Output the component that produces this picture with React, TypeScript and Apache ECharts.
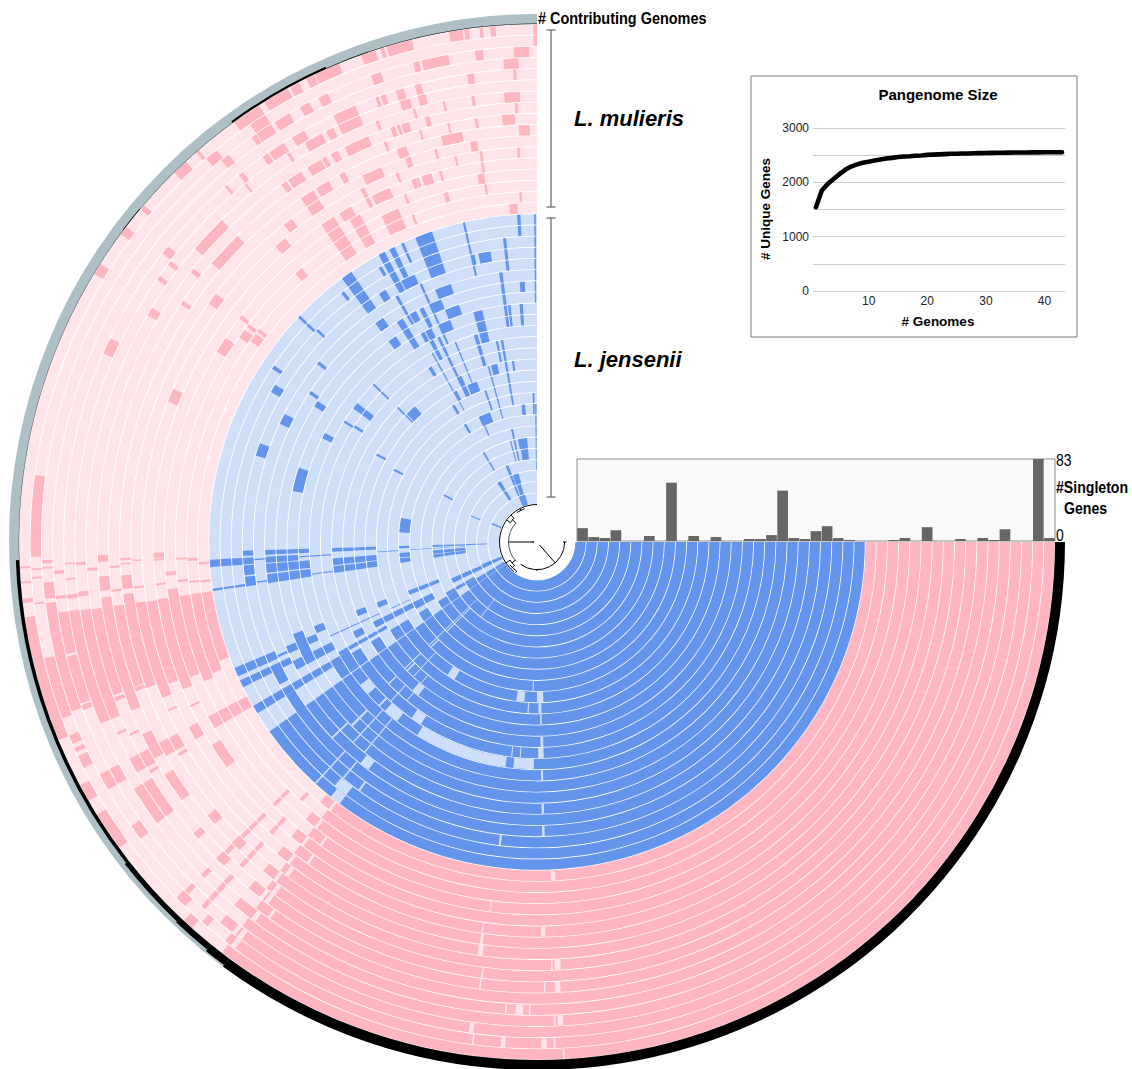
import React, { useEffect, useRef } from "react";
import * as echarts from "echarts";

type Col = [number, number, number[]];

const BLUE = "#6495ed";
const BLUE_LIGHT = "#cfdffa";
const PINK = "#ffb6c1";
const PINK_LIGHT = "#ffe5e9";
const GREY = "#afbfc6";

const genomeCount = 43;
const blueGenomes = 26;
const sweepEnd = 270;
const blueCoreEnd = 144.7;
const pinkCoreEnd = 127.5;

const singletons = [13, 4, 3, 11, 0, 0, 5, 0, 59, 0, 5, 0, 4, 0, 0, 2, 2, 6, 51, 3, 2, 10, 15, 3, 1, 0, 0, 0, 1, 3, 0, 14, 0, 0, 2, 0, 3, 1, 12, 0, 0, 83, 3];
const pangenomeSize = [1543, 1850, 1970, 2060, 2150, 2230, 2290, 2330, 2360, 2380, 2400, 2420, 2440, 2450, 2465, 2475, 2480, 2490, 2495, 2505, 2510, 2515, 2520, 2525, 2525, 2530, 2532, 2535, 2537, 2540, 2542, 2544, 2545, 2546, 2548, 2549, 2550, 2551, 2552, 2553, 2554, 2555, 2555];

// Blue accessory blocks, degrees back from north
const blueTop: Col[] = [
  [18.7, 21.8, [25, 24, 23, 22]], [9.1, 11.5, [22]], [12.3, 12.9, [22]],
  [34.5, 36.5, [25, 24, 23, 22, 20, 18]], [27.7, 28.9, [25, 24, 23, 22, 19]],
  [25.8, 26.8, [25, 24, 23, 19, 18]], [24.6, 27.5, [22]], [31, 32.5, [22, 19, 18, 17]],
  [18.5, 22, [20]], [21.6, 24.2, [19]], [18.2, 21.6, [18]], [21.4, 24.2, [17]],
  [13.3, 15.5, [17, 16, 15]], [26.3, 27.9, [17]], [2.7, 3.8, [19]], [7.3, 8, [20, 19, 18, 17, 16]],
  [6.4, 7, [17, 16]], [3.4, 4.2, [17, 16]], [12.6, 14.6, [12]], [20.6, 24, [11]], [20, 25, [8]],
  [5.5, 10.5, [5]], [5.5, 10, [4]], [15, 20, [2]], [15.5, 19.5, [1]], [14, 18, [0]],
  [0.2, 0.5, [25, 24, 23, 22, 21, 20, 19, 18]], [2.9, 3.5, [25, 24]], [5.8, 6.4, [23, 22, 21]],
  [12.7, 13.1, [25, 24, 23, 22, 21]], [24, 24.5, [25, 24, 21, 20, 19, 18, 17, 16]],
  [29.4, 30, [24, 21, 20, 19]], [25.3, 26, [16, 15, 14, 13, 12, 11]], [27.2, 28.2, [16, 15]],
  [31, 32, [14, 10, 8]], [24.5, 26, [12, 11]], [28, 29, [11]], [16, 17, [15, 14, 13]],
  [7.2, 7.9, [12]], [5, 6.5, [8]], [1, 1.7, [9, 8]], [14.3, 15, [5, 4]], [28.2, 29.2, [19, 17]],
  [30.3, 31.3, [5, 4]], [11, 11.6, [13, 14]], [18.5, 19.2, [9, 10]], [24, 24.6, [7, 8]],
  [12, 13, [6, 5, 4]], [0.2, 0.8, [8, 7, 6, 5, 4, 3]], [20.5, 22.5, [3, 2, 1]], [31, 34, [2, 1]], [18, 22, [0]],
  [9.5, 10.2, [14, 13, 12, 11, 10, 9]], [15.2, 15.7, [12, 11, 10, 9, 8]], [22, 22.4, [15, 14, 13, 12]], [28.8, 29.2, [15, 14, 13, 12, 11, 10]],
  [72.7, 78.2, [18]], [70.4, 72.9, [22]], [63.1, 65.3, [21]], [80, 86, [8]], [62.8, 64.2, [17]],
  [59, 60.6, [23]], [56.1, 56.8, [24]], [57.3, 58.7, [19]], [56.3, 57, [20]], [50.3, 51, [21]],
  [52.3, 54, [16, 15]], [57.7, 58.3, [16]], [57.3, 58, [15]], [42, 45.5, [12]], [61, 61.7, [12]],
  [62.8, 63.6, [10]], [62.8, 63.8, [5]], [68, 69, [2]], [67, 69, [0]], [46.3, 46.8, [25, 24]],
  [37.6, 38.2, [24]], [45.8, 46.3, [23, 16, 15, 13, 12]],
];

// Blue accessory blocks, degrees back from west
const blueWest: Col[] = [
  [1.7, 2.7, [1, 2, 3, 4, 5, 8, 11, 12, 13, 14, 17, 18, 19, 20, 22]],
  [3.1, 4.4, [25, 24, 23, 22, 20, 19, 18]], [4.6, 6.5, [3, 4, 5, 8, 11, 12, 13, 14, 17, 18, 19, 20, 22]],
  [6.8, 8.7, [3, 4, 5, 8, 11, 12, 13, 14, 17, 18, 19, 20, 22]], [3.4, 3.7, [3, 4, 5, 6, 7, 9, 10, 15, 16, 17, 21]],
  [8.2, 8.6, [25, 24, 23]], [8, 8.3, [21, 16, 15]], [22.6, 24.2, [25, 24, 23, 22, 20, 18]],
  [23.5, 24, [21]], [20.7, 25.8, [19]], [20.7, 22.5, [17, 13, 11, 8, 7, 6]], [26, 28, [20, 18, 17, 14, 12, 11, 10, 9]],
  [25, 26.3, [25, 24, 23, 21]], [25, 29, [22]], [25, 28, [19]], [24.3, 24.6, [16, 15, 14, 13, 12, 10, 9]],
  [30, 31.5, [25, 24, 23, 22, 21, 20, 19, 18, 17, 16]], [31.5, 36, [22]],
  [31, 35, [17, 16, 15, 13, 11, 10, 8, 6, 5]], [26, 29, [8, 7]], [23, 26, [4, 3, 2]], [29, 31, [5, 4, 3]],
  [22, 26, [1, 0]], [29, 30, [16, 15, 14, 13, 12]], [31, 35, [3, 2, 1, 0]], [35.8, 36.2, [17, 16, 15, 13]],
];

// Blue white slits through the core, [from, to, rings] in sweep degrees
const blueGaps: Col[] = [
  [98, 121.8, [16]], [90.8, 96, [16]], [96.6, 96.9, [15]], [94.3, 94.6, [15]], [88.2, 89.7, [15]], [88.2, 89, [14]],
  [94.5, 97.4, [10]], [87.7, 90, [10]], [92.8, 93.2, [11]], [88.5, 89.5, [11]], [91.3, 91.7, [9]], [121, 124, [10]],
  [122.5, 125.5, [15]], [128, 132, [16]], [138, 141, [16]], [127.7, 130, [13]], [133.7, 134.2, [16]], [126.5, 128.6, [21]],
  [125.4, 125.8, [23]], [127, 129.7, [24]], [127, 129, [25]], [96.8, 97.2, [23]], [132.4, 132.7, [10, 11, 12, 14, 15, 17, 18, 19, 20, 22, 23, 24, 25]],
  [136.1, 136.5, [4, 5, 6, 7, 8, 9, 11, 12, 14, 20, 21]], [129.2, 129.5, [12, 14, 17, 18, 19, 20, 22, 23]], [126.5, 127, [3, 4]],
  [135, 135.5, [5, 6, 7, 9, 12, 18, 19]], [88.5, 89, [17, 20, 22, 12]],
];

// Pink accessory blocks, degrees back from north
const pinkTop: Col[] = [
  [8.3, 9.8, [42]], [7.6, 8.1, [42]], [4.6, 5.2, [42]], [6, 6.4, [42]], [0, 0.4, [42, 41]], [14, 16.9, [42]], [17.2, 17.6, [42]],
  [18.2, 19.9, [42]], [22.5, 25.4, [42]], [25.5, 26.5, [42]], [28.8, 31.8, [42]], [32.5, 34.6, [42]], [34.5, 35.8, [42]], [27.4, 28.5, [42]],
  [0.9, 2.7, [40]], [6.3, 7.2, [40]], [10.3, 13.5, [40]], [13.8, 14.5, [40]], [2.2, 4, [39]], [18.4, 19.6, [40]], [2.2, 4.2, [36]],
  [14.2, 15, [38]], [8.1, 8.5, [38]], [7.7, 8.1, [38]], [14, 15, [37]], [22.6, 25.5, [38, 37, 35, 32, 30, 28, 27]],
  [10.4, 13.3, [33]], [3.3, 4.7, [26]], [3, 4.7, [34]], [1, 2.5, [33]], [8.5, 9.5, [32]], [8.2, 9.2, [29]], [8, 8.4, [30]],
  [14.2, 14.8, [35]], [16, 17.5, [30]], [14.4, 14.8, [30]], [14.3, 14.7, [32]], [14.3, 15, [28]], [16, 17.3, [37]], [18.3, 19.7, [33]], [18.2, 19, [32]],
  [25, 26.2, [40]], [29.5, 31.2, [38]], [29, 30.2, [37]], [32.5, 34.5, [38, 40, 41, 35, 33, 32]], [30, 32, [40, 33]], [29.5, 31.5, [35]], [29, 31, [30]],
  [32, 34.2, [30, 29, 28, 27]], [28.4, 30.2, [29, 28, 27]], [39.7, 41.5, [31]], [37.2, 38.6, [32]], [40.7, 42, [28]], [54, 55.5, [28]], [53.5, 55, [27]], [57.5, 59.3, [29]],
  [18.7, 19.3, [38]], [19.6, 20, [38]], [16.4, 17.4, [38]], [18.9, 19.5, [35]], [18.2, 18.6, [35]], [17, 18, [35]], [18.5, 19.1, [30]], [18, 18.4, [30]],
  [25.3, 26, [35]], [26.2, 27.2, [37]], [27, 28, [35]], [27.8, 29, [37]], [27.4, 28.6, [40]], [34.7, 35.5, [38]], [27.5, 28.3, [33]], [28.7, 29.3, [35]],
  [26, 26.6, [31, 30]], [41, 41.3, [38]], [39, 39.3, [37]], [34.8, 35.6, [35]], [19, 19.4, [40]], [32.4, 32.8, [37, 38]],
  [8, 8.4, [38, 36, 34, 31, 28]], [2.5, 2.9, [38, 35, 31, 27]], [11.8, 12.1, [36, 34, 31]], [20.6, 21, [36, 34, 31, 29, 27]], [15.7, 16, [36, 34]],
  [42.7, 44.5, [42]], [44.4, 49.4, [36, 34]], [64.5, 66.5, [38]], [67.2, 69.2, [31]], [57.5, 58.8, [42]], [52.5, 53.5, [42]], [49.4, 50, [42]],
  [51.3, 52.4, [38]], [52.5, 53.1, [37]], [54.8, 55.4, [37]], [58.7, 59.8, [36]], [51.5, 52.1, [35]], [55.7, 56.3, [34]], [52.3, 54, [32]],
  [56.8, 58, [29]], [52.5, 53.1, [29]], [52.9, 53.5, [28]], [52.5, 53.1, [27]], [39.3, 40.8, [41]], [38.5, 39.6, [40]], [34.6, 35.2, [40]],
  [38.5, 39.1, [38]], [40.8, 41.2, [42]],
];

// Pink accessory blocks, degrees back from west
const pinkWest: Col[] = [
  [8.4, 22.5, [42]], [-7.6, 1.7, [41]], [13.3, 20.4, [41]], [4.7, 6.6, [40]], [7.1, 20, [40]], [8.4, 13.4, [39]], [13.7, 19.5, [39]], [19.7, 20.3, [39]],
  [8.4, 22.6, [38]], [8.5, 22.6, [37]], [8.6, 19.9, [36]], [20.2, 20.7, [36]], [7.3, 22.6, [35]], [8.6, 19.8, [34]], [19.9, 20.4, [34]],
  [7.2, 20.5, [33]], [8.6, 22.6, [32]], [8.7, 21.1, [31]], [8.6, 22.6, [30]], [7.3, 21.3, [29]], [8.6, 22.7, [28]], [8.6, 22, [27]], [8.6, 20.5, [26]],
  [2.7, 2.95, [42]], [4.4, 4.6, [42]], [6.3, 6.8, [42]], [3, 3.2, [41]], [4, 4.2, [41]], [6.9, 7.1, [41]], [2.1, 2.5, [40]], [2.9, 3.1, [40]],
  [3.4, 3.8, [39]], [6.4, 6.8, [39]], [2.5, 2.7, [38]], [4.4, 4.6, [38]], [6.4, 6.9, [38]], [2.5, 2.9, [37]], [6.2, 6.8, [37]], [3.3, 3.7, [36]],
  [1.7, 2.6, [35]], [4.5, 6.4, [35]], [3.2, 3.5, [34]], [6.4, 6.7, [34]], [2.2, 2.5, [33]], [2.9, 3.1, [33]], [4.6, 6.5, [33]], [2.5, 2.7, [32]], [6.3, 6.6, [32]],
  [2.5, 2.8, [30]], [1.6, 2.4, [30]], [4.6, 5.2, [29]], [6.2, 6.5, [30]], [2.5, 2.8, [28]], [6, 6.4, [28]], [2.6, 3.1, [27]], [6.4, 6.7, [27]], [3.4, 3.8, [26]], [6.5, 6.9, [26]],
  [26, 29.5, [35]], [25, 26.5, [41]], [22.5, 23.5, [41]], [24, 24.5, [41]], [28, 30, [26, 27, 28, 29, 31, 33, 34, 36, 37, 39, 40, 42]],
  [31.8, 36.2, [42]], [31.5, 36.5, [38, 37]], [32, 36, [35, 30]], [39.7, 41, [34]], [35, 36.8, [40]], [40.3, 41.2, [36, 34]],
  [44.7, 45.3, [28, 29, 31, 32, 33, 35, 36, 38, 40, 41]], [47.3, 47.9, [27, 30, 31, 33, 34, 35, 37, 38, 39, 40]],
  [44.6, 46, [41, 36, 34]], [47, 48.2, [42]], [48.6, 49.4, [41]], [52, 52.7, [27, 29, 31, 33, 35, 38, 41]], [50.2, 52, [26, 28, 30, 32, 34, 36, 38, 40]],
  [30.5, 30.9, [36, 33]], [24.4, 24.7, [37, 32]], [25.2, 25.5, [36, 30]],
];

// Pink white slits through the core, [from, to, rings] in sweep degrees
const pinkGaps: Col[] = [
  [86.9, 87.6, [26]], [97.1, 97.3, [29]], [88.8, 89.4, [31]], [97.9, 98.1, [31]], [97.7, 98.1, [32]], [97.5, 98.2, [33]], [86.8, 87.6, [34]], [87.9, 88.1, [34]],
  [97.1, 97.3, [35]], [88.9, 89.1, [36]], [97.2, 97.4, [36]], [87, 87.7, [36]], [91.7, 92.6, [38]], [93.7, 93.9, [38]], [90.8, 91, [38]], [86.9, 87.5, [39]], [87.8, 88, [39]],
  [97.4, 97.9, [40]], [93.6, 94.1, [41]], [88.9, 89.5, [41]], [97.2, 97.4, [41]], [87.9, 88.1, [41]], [86.9, 87.1, [42]],
  [126.6, 127.2, [33, 35, 36, 38, 40, 41]], [125.3, 125.7, [29, 31, 37]],
];

// Contributing genomes ring: [from, to, genomes]
const contributing: [number, number, number][] = [
  [0, 126.5, 43], [126.5, 129, 35], [129, 133.5, 27], [133.5, 142, 22], [142, 178, 15], [178, 217, 1], [217, 220, 3], [220, 234, 1], [234, 246, 9], [246, 251, 3], [251, 270, 2],
];

const treeArcs: [number, number, number, number][] = [
  [27.7, 0, 126, 0], [37.5, 128, 270, 0], [28.5, 138, 222, 1], [33, 216, 226, 0], [32.5, 134, 146, 0], [35.5, 125, 140, 0], [35.5, 236, 250, 0], [3.8, 165, 195, 0],
];
const treeSpokes: [number, number, number, number][] = [
  [180, 3.8, 28.5, 0], [49, 3.8, 27.7, 0], [222, 28.5, 33, 0], [216, 33, 37.5, 0], [226, 33, 37.5, 0], [140, 28.5, 32.5, 0], [134, 32.5, 35.5, 0], [146, 32.5, 37.5, 0],
  [0, 26, 29.5, 0], [125, 35.5, 37.5, 0], [243, 35.5, 37.5, 0], [90, 27.7, 29, 0],
];

const RING_PAD = 0.04;
const PALETTE = [BLUE_LIGHT, BLUE, PINK_LIGHT, PINK, GREY, "#000000"];

type Row = [number, number, number, number, number];

function ringRows(cols: Col[], toSweep: (a: number) => number, colour: number): Row[] {
  const rows: Row[] = [];
  for (const [a, b, rings] of cols) {
    for (const ring of rings) {
      const s = toSweep(a);
      const e = toSweep(b);
      rows.push([ring + RING_PAD, ring + 1 - RING_PAD, Math.min(s, e), Math.max(s, e), colour]);
    }
  }
  return rows;
}

function buildRows(): Row[] {
  const rows: Row[] = [];
  for (let ring = 0; ring < genomeCount; ring++) {
    const isBlue = ring < blueGenomes;
    rows.push([ring + RING_PAD, ring + 1 - RING_PAD, 0, sweepEnd, isBlue ? 0 : 2]);
    rows.push([ring + RING_PAD, ring + 1 - RING_PAD, 0, isBlue ? blueCoreEnd : pinkCoreEnd, isBlue ? 1 : 3]);
  }
  const same = (a: number) => a;
  rows.push(...ringRows(blueGaps, same, 0));
  rows.push(...ringRows(pinkGaps, same, 2));
  rows.push(...ringRows(blueTop, (a) => 270 - a, 1));
  rows.push(...ringRows(blueWest, (a) => 180 - a, 1));
  rows.push(...ringRows(pinkTop, (a) => 270 - a, 3));
  rows.push(...ringRows(pinkWest, (a) => 180 - a, 3));
  const ringBase = genomeCount;
  const ringDepth = 0.896;
  rows.push([ringBase, ringBase + ringDepth, 90, sweepEnd, 4]);
  for (const [a, b, n] of contributing) {
    rows.push([ringBase, ringBase + (n / genomeCount) * ringDepth, a, b, 5]);
  }
  return rows;
}

function renderSector(params: any, api: any) {
  const { cx, cy } = params.coordSys;
  const r0v = api.value(0);
  const r1v = api.value(1);
  const a0 = api.value(2);
  const a1 = api.value(3);
  const p0 = api.coord([r0v, a0]);
  const p1 = api.coord([r1v, a1]);
  const start = Math.atan2(p0[1] - cy, p0[0] - cx);
  let end = Math.atan2(p1[1] - cy, p1[0] - cx);
  if (end <= start) end += Math.PI * 2;
  return {
    type: "sector",
    shape: { cx, cy, r0: Math.hypot(p0[0] - cx, p0[1] - cy), r: Math.hypot(p1[0] - cx, p1[1] - cy), startAngle: start, endAngle: end, clockwise: true },
    style: { fill: PALETTE[api.value(4)], stroke: null },
    silent: true,
  };
}

function renderTree(params: any, api: any) {
  const { cx, cy } = params.coordSys;
  const kind = api.value(0);
  const stroke = api.value(4) ? "#555555" : "#000000";
  if (kind === 0) {
    const p0 = api.coord([api.value(1), api.value(2)]);
    const p1 = api.coord([api.value(1), api.value(3)]);
    const start = Math.atan2(p0[1] - cy, p0[0] - cx);
    let end = Math.atan2(p1[1] - cy, p1[0] - cx);
    if (end <= start) end += Math.PI * 2;
    return {
      type: "arc",
      shape: { cx, cy, r: Math.hypot(p0[0] - cx, p0[1] - cy), startAngle: start, endAngle: end, clockwise: true },
      style: { stroke, fill: null, lineWidth: 1 },
      silent: true,
    };
  }
  const p0 = api.coord([api.value(2), api.value(1)]);
  const p1 = api.coord([api.value(3), api.value(1)]);
  return {
    type: "line",
    shape: { x1: p0[0], y1: p0[1], x2: p1[0], y2: p1[1] },
    style: { stroke, lineWidth: 1 },
    silent: true,
  };
}

const SANS = "'Liberation Sans', Arial, sans-serif";

function bracket(x: number, y0: number, y1: number) {
  const st = { stroke: "#777777", lineWidth: 1.4 };
  return [
    { type: "line", shape: { x1: x, y1: y0, x2: x, y2: y1 }, style: st },
    { type: "line", shape: { x1: x - 4.5, y1: y0, x2: x + 4.5, y2: y0 }, style: st },
    { type: "line", shape: { x1: x - 4.5, y1: y1, x2: x + 4.5, y2: y1 }, style: st },
  ];
}

function label(text: string, x: number, y: number, font: string, extra: any = {}) {
  return {
    type: "text",
    x,
    y,
    rotation: extra.rotation || 0,
    scaleX: extra.scaleX || 1,
    style: { text, font, fill: "#000000", textAlign: extra.align || "left", textVerticalAlign: "middle" },
  };
}

export default function App() {
  const ref = useRef<HTMLDivElement>(null);
  useEffect(() => {
    if (!ref.current) return;
    const chart = echarts.init(ref.current, undefined, { renderer: "svg" });
    const treeRows = [
      ...treeArcs.map(([r, a, b, g]) => [0, r, a, b, g]),
      ...treeSpokes.map(([a, r0, r1, g]) => [1, a, r0, r1, g]),
    ];
    chart.setOption({
      animation: false,
      backgroundColor: "#ffffff",
      polar: [
        { center: [537, 542], radius: [38, 528] },
        { center: [537, 542], radius: [0, 38] },
      ],
      radiusAxis: [
        { polarIndex: 0, type: "value", min: 0, max: genomeCount + 0.896, show: false },
        { polarIndex: 1, type: "value", min: 0, max: 38, show: false },
      ],
      angleAxis: [
        { polarIndex: 0, type: "value", min: 0, max: 360, startAngle: 0, clockwise: true, show: false },
        { polarIndex: 1, type: "value", min: 0, max: 360, startAngle: 0, clockwise: true, show: false },
      ],
      grid: [
        { left: 577, top: 459, width: 478, height: 82, show: true, backgroundColor: "#f9f9f9", borderColor: "#8c8c8c", borderWidth: 1, containLabel: false },
        { left: 813, top: 128, width: 252, height: 163, containLabel: false },
      ],
      xAxis: [
        { gridIndex: 0, type: "category", data: singletons.map((_, i) => String(i + 1)), show: false },
        {
          gridIndex: 1,
          type: "category",
          data: pangenomeSize.map((_, i) => String(i + 1)),
          axisLine: { show: false },
          axisTick: { show: false },
          axisLabel: {
            interval: (_: number, v: string) => Number(v) % 10 === 0,
            fontFamily: SANS,
            fontSize: 12,
            color: "#222222",
            margin: 4,
          },
          splitLine: { show: false },
        },
      ],
      yAxis: [
        { gridIndex: 0, type: "value", min: 0, max: 83, show: false },
        {
          gridIndex: 1,
          type: "value",
          min: 0,
          max: 3000,
          interval: 500,
          axisLine: { show: false },
          axisTick: { show: false },
          axisLabel: {
            formatter: (v: number) => (v % 1000 === 0 ? String(v) : ""),
            fontFamily: SANS,
            fontSize: 12,
            color: "#222222",
            margin: 4,
            padding: [0, 0, 3, 0],
          },
          splitLine: { lineStyle: { color: "#cccccc", width: 1 } },
        },
      ],
      series: [
        {
          type: "custom",
          coordinateSystem: "polar",
          polarIndex: 0,
          encode: { radius: 0, angle: 2 },
          data: buildRows(),
          renderItem: renderSector,
          silent: true,
          clip: false,
        },
        {
          type: "custom",
          coordinateSystem: "polar",
          polarIndex: 1,
          encode: { radius: 1, angle: 2 },
          data: treeRows,
          renderItem: renderTree,
          silent: true,
          clip: false,
        },
        {
          type: "bar",
          xAxisIndex: 0,
          yAxisIndex: 0,
          data: singletons,
          barCategoryGap: "4%",
          itemStyle: { color: "#666666" },
          silent: true,
        },
        {
          type: "line",
          xAxisIndex: 1,
          yAxisIndex: 1,
          data: pangenomeSize,
          showSymbol: false,
          smooth: false,
          lineStyle: { color: "#000000", width: 4.6, cap: "round", join: "round" },
          silent: true,
        },
      ],
      graphic: [
        { type: "rect", shape: { x: 751, y: 76, width: 326, height: 261 }, style: { fill: "none", stroke: "#7a7a7a", lineWidth: 1 }, silent: true },
        ...bracket(551, 30, 207),
        ...bracket(551, 218, 497),
        label("# Contributing Genomes", 538, 18, `bold 17px ${SANS}`, { scaleX: 0.85 }),
        label("L. mulieris", 574, 118, `italic bold 22px ${SANS}`),
        label("L. jensenii", 574, 359, `italic bold 22px ${SANS}`),
        label("83", 1056, 460, `17px ${SANS}`, { scaleX: 0.82 }),
        label("#Singleton", 1056, 487, `bold 17px ${SANS}`, { scaleX: 0.83 }),
        label("Genes", 1064, 508, `bold 17px ${SANS}`, { scaleX: 0.83 }),
        label("0", 1056, 535, `17px ${SANS}`, { scaleX: 0.82 }),
        label("Pangenome Size", 938, 94, `bold 15px ${SANS}`, { align: "center" }),
        label("# Genomes", 938, 321, `bold 13.5px ${SANS}`, { align: "center" }),
        label("# Unique Genes", 765, 209, `bold 13.5px ${SANS}`, { align: "center", rotation: Math.PI / 2 }),
      ],
    });
    return () => chart.dispose();
  }, []);
  return <div ref={ref} style={{ position: "fixed", left: 0, top: 0, width: 1132, height: 1069 }} />;
}
